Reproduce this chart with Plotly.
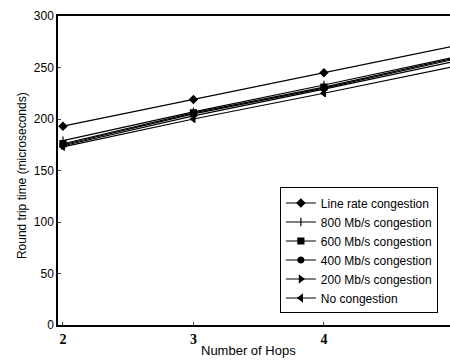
import plotly.graph_objects as go

hops = [2, 3, 4, 5]
series_names = ["Line rate congestion", "800 Mb/s congestion", "600 Mb/s congestion",
                "400 Mb/s congestion", "200 Mb/s congestion", "No congestion"]
line_rate = [193, 219, 245, 271]
c800 = [179, 207, 233, 260]
c600 = [176, 206, 231, 259]
c400 = [175, 205, 230, 258]
c200 = [174, 203, 229, 256]
no_cong = [173, 200, 225, 251]
all_series = [line_rate, c800, c600, c400, c200, no_cong]
symbols = ["diamond", "line-ns", "square", "circle", "triangle-right", "triangle-left"]
x_ticks = [2, 3, 4]
y_ticks = [0, 50, 100, 150, 200, 250, 300]

fig = go.Figure()
for name, vals, sym in zip(series_names, all_series, symbols):
    fig.add_trace(go.Scatter(
        x=hops, y=vals, name=name, mode="lines+markers",
        line=dict(color="black", width=1.2),
        marker=dict(symbol=sym, size=6, color="black",
                    line=dict(color="black", width=1.2)),
    ))

fig.update_layout(
    width=450, height=360,
    margin=dict(l=58, r=0, t=16, b=35),
    plot_bgcolor="white", paper_bgcolor="white",
    showlegend=True,
    legend=dict(x=0.566, y=0.445, xanchor="left", yanchor="top",
                bordercolor="black", borderwidth=1, bgcolor="white",
                font=dict(family="Liberation Sans", size=12, color="black"),
                tracegroupgap=0, itemwidth=30),
    font=dict(family="Liberation Sans", color="black"),
)
fig.update_xaxes(range=[1.962, 4.966], tickvals=x_ticks, ticks="inside", ticklen=3,
                 showline=True, linecolor="black", linewidth=1.5, mirror=True,
                 showgrid=False, zeroline=False,
                 tickfont=dict(family="Liberation Serif", size=14, color="black", weight="bold"))
fig.update_yaxes(range=[0, 300], tickvals=y_ticks, ticks="inside", ticklen=3,
                 showline=True, linecolor="black", linewidth=1.5,
                 showgrid=False, zeroline=False,
                 tickfont=dict(family="Liberation Sans", size=12, color="black"))
fig.add_annotation(text="Number of Hops", xref="paper", yref="paper",
                   x=0.485, y=-0.081, xanchor="center", yanchor="middle",
                   showarrow=False, font=dict(family="Liberation Sans", size=13, color="black"))
fig.add_annotation(text="Round trip time (microseconds)", xref="paper", yref="paper",
                   x=-0.092, y=0.485, xanchor="center", yanchor="middle", textangle=-90,
                   showarrow=False, font=dict(family="Liberation Sans", size=12, color="black"))
fig.write_html("out.html", config={"displayModeBar": False},
               post_script="document.body.style.margin='0';document.body.style.overflow='hidden';")
